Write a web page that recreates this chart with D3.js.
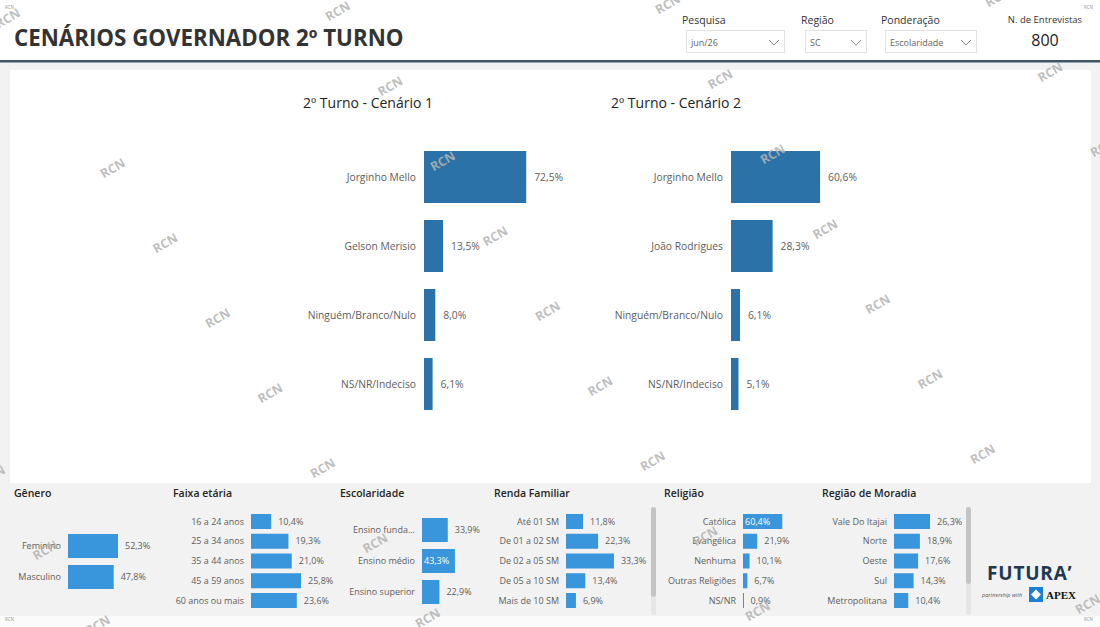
<!DOCTYPE html>
<html>
<head>
<meta charset="utf-8">
<script src="https://cdn.jsdelivr.net/npm/d3@7"></script>
<style>
  body { margin: 0; background: #f2f2f2; }
  svg { display: block; font-family: "Open Sans", "Noto Sans", sans-serif; }
</style>
</head>
<body>
<script>
// chart data
const cen1Cats = ["Jorginho Mello", "Gelson Merisio", "Ninguém/Branco/Nulo", "NS/NR/Indeciso"];
const cen1Vals = [72.5, 13.5, 8.0, 6.1];
const cen2Cats = ["Jorginho Mello", "João Rodrigues", "Ninguém/Branco/Nulo", "NS/NR/Indeciso"];
const cen2Vals = [60.6, 28.3, 6.1, 5.1];

const generoCats = ["Feminino", "Masculino"];
const generoVals = [52.3, 47.8];
const idadeCats = ["16 a 24 anos", "25 a 34 anos", "35 a 44 anos", "45 a 59 anos", "60 anos ou mais"];
const idadeVals = [10.4, 19.3, 21.0, 25.8, 23.6];
const escCats = ["Ensino funda...", "Ensino médio", "Ensino superior"];
const escVals = [33.9, 43.3, 22.9];
const rendaCats = ["Até 01 SM", "De 01 a 02 SM", "De 02 a 05 SM", "De 05 a 10 SM", "Mais de 10 SM"];
const rendaVals = [11.8, 22.3, 33.3, 13.4, 6.9];
const religCats = ["Católica", "Evangélica", "Nenhuma", "Outras Religiões", "NS/NR"];
const religVals = [60.4, 21.9, 10.1, 6.7, 0.9];
const regiaoCats = ["Vale Do Itajai", "Norte", "Oeste", "Sul", "Metropolitana"];
const regiaoVals = [26.3, 18.9, 17.6, 14.3, 10.4];

// labels drawn inside the bar
const insideLabels = ["Ensino médio", "Católica"];

const filters = [
  { name: "Pesquisa", value: "jun/26" },
  { name: "Região", value: "SC" },
  { name: "Ponderação", value: "Escolaridade" }
];
const nEntrevistas = 800;

const W = 1100, H = 627;
const fmt = v => d3.format(".1f")(v).replace(".", ",") + "%";

const svg = d3.select("body").append("svg").attr("width", W).attr("height", H);

// ---- background / header
svg.append("rect").attr("width", W).attr("height", H).attr("fill", "#f2f2f2");
svg.append("rect").attr("width", W).attr("height", 60).attr("fill", "#ffffff");
svg.append("rect").attr("y", 60).attr("width", W).attr("height", 2.5).attr("fill", "#3f5668");
svg.append("rect").attr("x", 10).attr("y", 70).attr("width", 1081).attr("height", 413).attr("fill", "#ffffff");
svg.append("rect").attr("y", 616).attr("width", W).attr("height", 11).attr("fill", "#fbfbfb");

svg.append("text").attr("x", 14).attr("y", 46)
  .attr("font-size", 22.3).attr("font-weight", 700).attr("fill", "#333")
  .text("CENÁRIOS GOVERNADOR 2º TURNO");

// slicers
const slicerX = [682, 801, 881];
const slicerW = [98, 61, 91];
filters.forEach((f, i) => {
  const g = svg.append("g").attr("transform", `translate(${slicerX[i]},0)`);
  g.append("text").attr("x", 0).attr("y", 24).attr("font-size", 10.5).attr("fill", "#333").text(f.name);
  g.append("rect").attr("x", 4.5).attr("y", 30.5).attr("width", slicerW[i]).attr("height", 22)
    .attr("fill", "#fff").attr("stroke", "#e3e3e3");
  g.append("text").attr("x", 9).attr("y", 46).attr("font-size", 9).attr("fill", "#666").text(f.value);
  const cx = slicerW[i] - 6;
  g.append("path").attr("d", `M${cx - 5},40 L${cx},45 L${cx + 5},40`)
    .attr("fill", "none").attr("stroke", "#888").attr("stroke-width", 1);
});
svg.append("text").attr("x", 1045).attr("y", 23).attr("text-anchor", "middle")
  .attr("font-size", 9.5).attr("fill", "#333").text("N. de Entrevistas");
svg.append("text").attr("x", 1045).attr("y", 46).attr("text-anchor", "middle")
  .attr("font-size", 16).attr("fill", "#222").text(nEntrevistas);

// ---- generic horizontal bar chart
function barChart(cats, vals, o) {
  const g = svg.append("g");
  const y = d3.scaleBand().domain(cats).range([o.top, o.bottom]).paddingInner(o.pad).paddingOuter(0);
  const x = d3.scaleLinear().domain([0, 100]).range([o.x0, o.x0 + o.w100]);
  const rows = g.selectAll("g").data(cats.map((c, i) => ({ c, v: vals[i] }))).join("g");
  const inside = d => o.inside && insideLabels.includes(d.c);
  rows.append("rect")
    .attr("x", x(0)).attr("y", d => y(d.c))
    .attr("width", d => Math.max(1, x(d.v) - x(0))).attr("height", y.bandwidth())
    .attr("fill", o.color);
  rows.append("text")
    .attr("x", x(0) - o.gap).attr("y", d => y(d.c) + y.bandwidth() / 2).attr("dy", "0.35em")
    .attr("text-anchor", "end").attr("font-size", o.fs).attr("fill", "#605e5c")
    .text(d => d.c);
  rows.append("text")
    .attr("x", d => inside(d) ? x(0) + 2 : x(d.v) + o.gap)
    .attr("y", d => y(d.c) + y.bandwidth() / 2).attr("dy", "0.35em")
    .attr("font-size", o.fs)
    .attr("fill", d => inside(d) ? "#fff" : "#605e5c")
    .text(d => fmt(d.v));
  return g;
}

// ---- main charts
svg.append("text").attr("x", 303).attr("y", 108).attr("font-size", 14).attr("fill", "#252423").text("2º Turno - Cenário 1");
svg.append("text").attr("x", 611).attr("y", 108).attr("font-size", 14).attr("fill", "#252423").text("2º Turno - Cenário 2");

barChart(cen1Cats, cen1Vals, { x0: 424, w100: 141, top: 151, bottom: 410, pad: 17 / 69, color: "#2a72a7", fs: 10.3, gap: 8 });
barChart(cen2Cats, cen2Vals, { x0: 731, w100: 147, top: 151, bottom: 410, pad: 17 / 69, color: "#2a72a7", fs: 10.3, gap: 8 });

// ---- bottom panels
const small = { color: "#3a96dc", fs: 9, gap: 7, inside: true };
const panels = [
  { title: "Gênero", x: 14, cats: generoCats, vals: generoVals, o: { x0: 68, w100: 95.6, top: 534, bottom: 589, pad: 7 / 31 } },
  { title: "Faixa etária", x: 173, cats: idadeCats, vals: idadeVals, o: { x0: 251, w100: 194, top: 514, bottom: 608, pad: 0.24 } },
  { title: "Escolaridade", x: 340, cats: escCats, vals: escVals, o: { x0: 422, w100: 76, top: 518, bottom: 604, pad: 7 / 31 } },
  { title: "Renda Familiar", x: 494, cats: rendaCats, vals: rendaVals, o: { x0: 566, w100: 144, top: 514, bottom: 608, pad: 0.24 } },
  { title: "Religião", x: 664, cats: religCats, vals: religVals, o: { x0: 743, w100: 65, top: 514, bottom: 608, pad: 0.24 } },
  { title: "Região de Moradia", x: 822, cats: regiaoCats, vals: regiaoVals, o: { x0: 894, w100: 137, top: 514, bottom: 608, pad: 0.24 } }
];
panels.forEach(p => {
  svg.append("text").attr("x", p.x).attr("y", 497).attr("font-size", 10.5)
    .attr("font-weight", 600).attr("fill", "#252423").text(p.title);
  barChart(p.cats, p.vals, Object.assign({}, small, p.o));
});

// scrollbars
[[651, 507, 90, 108], [966, 507, 77, 108]].forEach(([sx, sy, h, th]) => {
  svg.append("rect").attr("x", sx).attr("y", sy).attr("width", 5).attr("height", th).attr("rx", 2.5).attr("fill", "#e6e6e6");
  svg.append("rect").attr("x", sx).attr("y", sy).attr("width", 5).attr("height", h).attr("rx", 2.5).attr("fill", "#c4c4c4");
});

// ---- logo
const logo = svg.append("g");
logo.append("text").attr("x", 987).attr("y", 580).attr("font-size", 19).attr("font-weight", 700)
  .attr("letter-spacing", 0.8).attr("fill", "#1d3a51").text("FUTURA’");
logo.append("text").attr("x", 982).attr("y", 597).attr("font-size", 5.5).attr("font-style", "italic")
  .attr("fill", "#555").text("partnership with");
logo.append("rect").attr("x", 1029).attr("y", 587).attr("width", 14).attr("height", 15).attr("fill", "#1c7fd6");
logo.append("rect").attr("x", 1032.5).attr("y", 591).attr("width", 7).attr("height", 7)
  .attr("transform", "rotate(45,1036,594.5)").attr("fill", "#fff");
logo.append("text").attr("x", 1046).attr("y", 599).attr("font-size", 11).attr("font-weight", 700)
  .attr("font-family", "'Liberation Serif', serif").attr("fill", "#111").text("APEX");

// ---- watermark (grid of "RCN", a few spots are empty in the original)
const skip = ["-1,-1", "2,5"];
const wm = svg.append("g").attr("pointer-events", "none");
for (let i = -2; i < 5; i++) {
  for (let j = -3; j < 8; j++) {
    const wx = 115 + 330 * i + 52.5 * j, wy = 172 - 7 * i + 75 * j;
    if (wx < -20 || wx > W + 20 || wy < -10 || wy > H + 15) continue;
    if (skip.includes(`${i},${j}`) || (i === 0 && j === -1)) continue;
    wm.append("text").attr("x", wx).attr("y", wy).attr("text-anchor", "middle")
      .attr("transform", `rotate(-30,${wx},${wy})`)
      .attr("font-size", 12.5).attr("font-weight", 700).attr("fill", "#b4b4b4").attr("fill-opacity", 0.85)
      .text("RCN");
  }
}
[[5, 9], [1084, 9], [5, 621], [1084, 621]].forEach(([cx, cy]) => {
  wm.append("text").attr("x", cx).attr("y", cy).attr("font-size", 4.5).attr("fill", "#999").text("RCN");
});
</script>
</body>
</html>
